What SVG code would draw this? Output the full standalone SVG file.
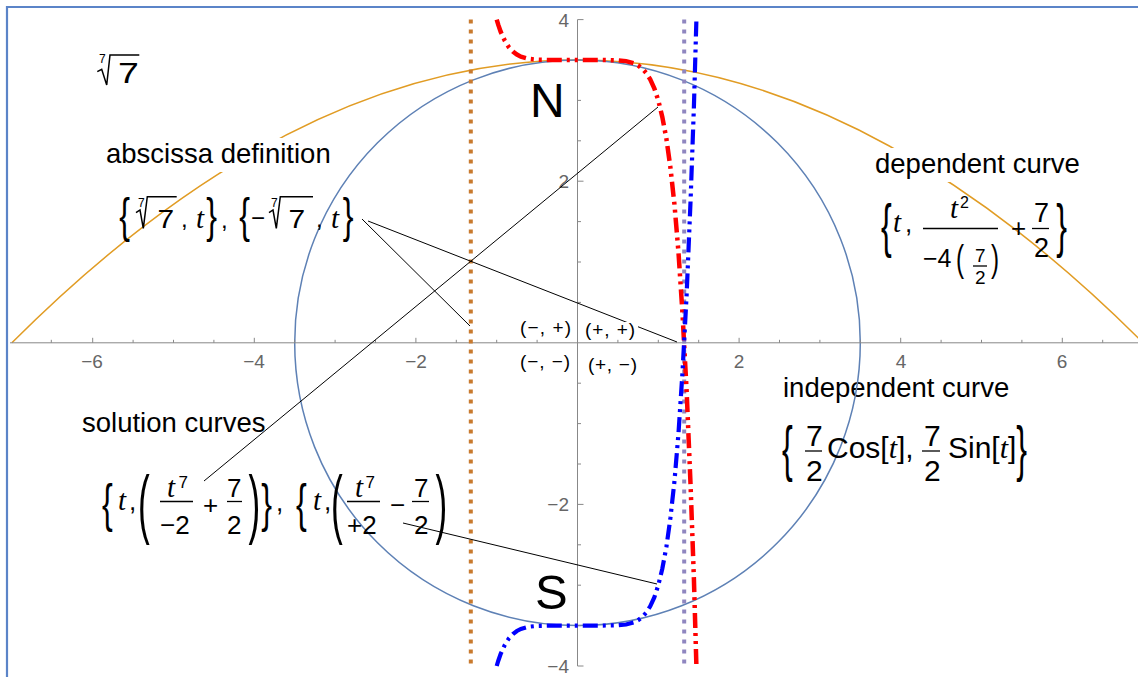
<svg xmlns="http://www.w3.org/2000/svg" width="1138" height="677" viewBox="0 0 1138 677">
<style>
.lbl{font-family:"Liberation Sans",Arial,sans-serif;font-size:27.5px;fill:#000}
.m{font-family:"Liberation Sans",Arial,sans-serif;fill:#000}
.it{font-family:"Liberation Serif","Times New Roman",serif;font-style:italic;fill:#000}
.tick{font-family:"Liberation Sans",Arial,sans-serif;font-size:19px;fill:#666}
.q{font-family:"Liberation Sans",Arial,sans-serif;font-size:19px;fill:#000}
.bar{stroke:#000;stroke-width:1.3;fill:none}
.rad{stroke:#000;stroke-width:1.5;fill:none;stroke-linejoin:miter}
.bg{fill:#fff}
.ax{stroke:#888;stroke-width:1;fill:none}
.lead{stroke:#000;stroke-width:1;fill:none}
</style>
<rect width="1138" height="677" fill="#fff"/>
<path d="M7 677 V7 H1138" fill="none" stroke="#5b84c8" stroke-width="2.2"/>

<g id="parabola">
<path d="M11.9 342.8 Q577.5 -222.8 1143.1 342.8" fill="none" stroke="#e19c24" stroke-width="1.5"/>
</g>

<g id="label-abscissa">
<rect class="bg" x="103" y="138" width="238" height="34"/>
<text class="lbl" x="106" y="163">abscissa definition</text>
</g>
<g id="label-dependent">
<rect class="bg" x="872" y="148" width="212" height="34"/>
<text class="lbl" x="875" y="173">dependent curve</text>
</g>
<g id="label-solution">
<rect class="bg" x="79" y="407" width="192" height="34"/>
<text class="lbl" x="82" y="432">solution curves</text>
</g>
<g id="label-independent">
<text class="lbl" x="783" y="397">independent curve</text>
</g>

<g id="circle">
<circle cx="577.5" cy="342.8" r="282.8" fill="none" stroke="#5e81b5" stroke-width="1.5"/>
</g>

<g id="axes">
<path class="ax" d="M10 342.8 H1138 M577.5 19.6 V666"/>
<path class="ax" d="M51.3 342.8v-3M92.7 342.8v-5M133.1 342.8v-3M173.5 342.8v-3M213.9 342.8v-3M254.3 342.8v-5M294.7 342.8v-3M335.1 342.8v-3M375.5 342.8v-3M415.9 342.8v-5M456.3 342.8v-3M496.7 342.8v-3M537.1 342.8v-3M617.9 342.8v-3M658.3 342.8v-3M698.7 342.8v-3M739.1 342.8v-5M779.5 342.8v-3M819.9 342.8v-3M860.3 342.8v-3M900.7 342.8v-5M941.1 342.8v-3M981.5 342.8v-3M1021.9 342.8v-3M1062.3 342.8v-5M1102.7 342.8v-3"/>
<path class="ax" d="M577.5 19.6h6M577.5 60h3.5M577.5 100.4h3.5M577.5 140.8h3.5M577.5 181.2h6M577.5 221.6h3.5M577.5 262h3.5M577.5 302.4h3.5M577.5 383.2h3.5M577.5 423.6h3.5M577.5 464h3.5M577.5 504.4h6M577.5 544.8h3.5M577.5 585.2h3.5M577.5 625.6h3.5M577.5 666h6"/>
<g class="tick" text-anchor="middle">
<text x="92" y="368">−6</text>
<text x="254" y="368">−4</text>
<text x="416" y="368">−2</text>
<text x="739" y="368">2</text>
<text x="901" y="368">4</text>
<text x="1062" y="368">6</text>
</g>
<g class="tick" text-anchor="end">
<text x="569" y="27">4</text>
<text x="569" y="188">2</text>
<text x="569" y="511">−2</text>
<text x="569" y="673">−4</text>
</g>
</g>

<g id="abscissa-lines">
<line x1="470.8" y1="19.6" x2="470.8" y2="666" stroke="#c97a2e" stroke-width="4" stroke-dasharray="4 6"/>
<line x1="684.2" y1="19.6" x2="684.2" y2="666" stroke="#8f86c0" stroke-width="4" stroke-dasharray="4 6"/>
</g>

<g id="red-curve">
<polyline fill="none" stroke="#ff0000" stroke-width="4.5" stroke-dasharray="15 5 3 5 3 5" points="496.7,19.6 498.3,24.9 500.7,31.8 504.8,40.7 508.8,47.1 512.9,51.5 516.9,54.6 520.9,56.7 529.0,58.9 537.1,59.7 553.3,60.0 577.5,60.0 601.7,60.0 617.9,60.3 626.0,61.1 634.1,63.3 638.1,65.4 642.1,68.5 646.2,73.0 650.2,79.3 654.3,88.2 658.3,100.4 662.3,116.9 666.4,138.7 670.4,167.5 674.5,204.8 678.5,252.6 682.5,313.5 686.6,390.2 690.6,485.9 693.9,578.7 696.4,666.0"/>
</g>
<g id="blue-curve">
<polyline fill="none" stroke="#0000ff" stroke-width="4.2" stroke-dasharray="15 5 3 5 3 5" points="496.7,666.0 498.3,660.7 500.7,653.8 504.8,644.9 508.8,638.5 512.9,634.1 516.9,631.0 520.9,628.9 529.0,626.7 537.1,625.9 553.3,625.6 577.5,625.6 601.7,625.6 617.9,625.3 626.0,624.5 634.1,622.3 638.1,620.2 642.1,617.1 646.2,612.6 650.2,606.3 654.3,597.4 658.3,585.2 662.3,568.7 666.4,546.9 670.4,518.1 674.5,480.8 678.5,433.0 682.5,372.1 686.6,295.4 690.6,199.7 693.9,106.9 696.4,19.6"/>
</g>

<g id="connectors">
<line class="lead" x1="362" y1="219" x2="470" y2="326"/>
<line class="lead" x1="368" y1="221" x2="677" y2="342"/>
<line class="lead" x1="204" y1="481" x2="658" y2="107"/>
<line class="lead" x1="403" y1="523" x2="657" y2="584"/>
</g>

<g id="quadrants">
<text class="q" x="520" y="334" textLength="51" lengthAdjust="spacing">(−, +)</text>
<rect class="bg" x="625" y="322" width="13" height="18"/>
<text class="q" x="585" y="336" textLength="50" lengthAdjust="spacing">(+, +)</text>
<text class="q" x="520" y="368" textLength="50" lengthAdjust="spacing">(−, −)</text>
<text class="q" x="588" y="371" textLength="49" lengthAdjust="spacing">(+, −)</text>
</g>

<g id="pole-N"><text class="m" x="530" y="117" font-size="48">N</text></g>
<g id="pole-S"><text class="m" x="535" y="609" font-size="49">S</text></g>

<g id="root-label">
<text class="m" x="99" y="63" font-size="12">7</text>
<polyline class="rad" points="97.3,71.7 101.7,69.3 106.7,85 110,55 139.3,55"/>
<text class="m" font-size="30" transform="translate(118 83) scale(1.25 1)">7</text>
</g>

<g id="formula-abscissa">
<text class="m" font-size="28" transform="translate(119.2 231.7) scale(1.15 1.75)">{</text>
<text class="m" x="138" y="207" font-size="12">7</text>
<polyline class="rad" points="136,212.7 140,210 143.3,228.3 147.3,196.7 176.7,196.7"/>
<text class="m" font-size="25" transform="translate(157.5 227.5) scale(1.2 1)">7</text>
<text class="m" x="181" y="227" font-size="24">,</text>
<text class="it" x="196" y="227.5" font-size="29">t</text>
<text class="m" font-size="28" transform="translate(206.3 231.7) scale(1.15 1.75)">}</text>
<text class="m" x="221" y="228" font-size="24">,</text>
<text class="m" font-size="28" transform="translate(239.3 231.7) scale(1.15 1.75)">{</text>
<text class="m" x="251" y="226" font-size="24">−</text>
<text class="m" x="271" y="207" font-size="12">7</text>
<polyline class="rad" points="269,212.7 273,210 276.3,228.3 280.3,196.7 313,196.7"/>
<text class="m" font-size="25" transform="translate(288.5 227.5) scale(1.2 1)">7</text>
<text class="m" x="316" y="227" font-size="24">,</text>
<text class="it" x="331" y="227.5" font-size="29">t</text>
<text class="m" font-size="28" transform="translate(342.8 231.7) scale(1.15 1.75)">}</text>
</g>

<g id="formula-dependent">
<text class="m" font-size="28" transform="translate(881.1 245.5) scale(1.15 2.13)">{</text>
<text class="it" x="893" y="232" font-size="29">t</text>
<text class="m" x="905" y="232" font-size="26">,</text>
<text class="it" x="950" y="218" font-size="29">t</text>
<text class="m" x="960" y="208" font-size="16">2</text>
<line class="bar" x1="923" y1="228.5" x2="998" y2="228.5"/>
<text class="m" x="923" y="267" font-size="25">−4</text>
<text class="m" font-size="22" transform="translate(956 271.4) scale(1.1 1.65)">(</text>
<text class="m" x="975" y="262" font-size="19">7</text>
<line class="bar" x1="973" y1="266" x2="987" y2="266" stroke-width="1"/>
<text class="m" x="975" y="284" font-size="19">2</text>
<text class="m" font-size="22" transform="translate(991 271.4) scale(1.1 1.65)">)</text>
<text class="m" x="1011" y="237" font-size="26">+</text>
<text class="m" x="1034" y="222" font-size="27">7</text>
<line class="bar" x1="1032" y1="228.5" x2="1049" y2="228.5"/>
<text class="m" x="1034" y="257" font-size="27">2</text>
<text class="m" font-size="28" transform="translate(1056.2 245.5) scale(1.15 2.13)">}</text>
</g>

<g id="formula-independent">
<text class="m" font-size="28" transform="translate(782.1 469.3) scale(1.15 2.17)">{</text>
<text class="m" x="806" y="446" font-size="30">7</text>
<line class="bar" x1="805" y1="451" x2="822" y2="451" stroke-width="1.5"/>
<text class="m" x="806" y="481" font-size="30">2</text>
<text class="m" x="827" y="458" font-size="30">Cos[<tspan class="it">t</tspan>],</text>
<text class="m" x="924" y="446" font-size="30">7</text>
<line class="bar" x1="922" y1="451" x2="940" y2="451" stroke-width="1.5"/>
<text class="m" x="924" y="481" font-size="30">2</text>
<text class="m" x="948" y="458" font-size="30">Sin[<tspan class="it">t</tspan>]</text>
<text class="m" font-size="28" transform="translate(1016.2 469.3) scale(1.15 2.17)">}</text>
</g>

<g id="formula-solution">
<text class="m" font-size="28" transform="translate(102.1 521) scale(1.15 1.86)">{</text>
<text class="it" x="118" y="510" font-size="29">t</text>
<text class="m" x="129" y="510" font-size="26">,</text>
<text class="m" font-size="32" transform="translate(138 528.9) scale(1.1 2.4)">(</text>
<text class="it" x="167" y="497" font-size="29">t</text>
<text class="m" x="178.5" y="488" font-size="17">7</text>
<line class="bar" x1="160" y1="501.5" x2="193" y2="501.5"/>
<text class="m" x="160" y="534" font-size="26">−2</text>
<text class="m" x="203" y="514" font-size="26">+</text>
<text class="m" x="227" y="497" font-size="26">7</text>
<line class="bar" x1="227" y1="501.5" x2="242" y2="501.5"/>
<text class="m" x="227" y="534" font-size="26">2</text>
<text class="m" font-size="32" transform="translate(248.5 528.9) scale(1.1 2.4)">)</text>
<text class="m" font-size="28" transform="translate(261.2 521) scale(1.15 1.86)">}</text>
<text class="m" x="276" y="511" font-size="26">,</text>
<text class="m" font-size="28" transform="translate(296.1 521) scale(1.15 1.86)">{</text>
<text class="it" x="313" y="510" font-size="29">t</text>
<text class="m" x="324" y="510" font-size="26">,</text>
<text class="m" font-size="32" transform="translate(331 528.9) scale(1.1 2.4)">(</text>
<text class="it" x="355" y="497" font-size="29">t</text>
<text class="m" x="365.5" y="488" font-size="17">7</text>
<line class="bar" x1="347" y1="501.5" x2="380" y2="501.5"/>
<text class="m" x="347" y="534" font-size="26">+2</text>
<text class="m" x="390" y="514" font-size="26">−</text>
<text class="m" x="414" y="497" font-size="26">7</text>
<line class="bar" x1="412" y1="501.5" x2="429" y2="501.5"/>
<text class="m" x="414" y="534" font-size="26">2</text>
<text class="m" font-size="32" transform="translate(435.5 528.9) scale(1.1 2.4)">)</text>
</g>
</svg>
